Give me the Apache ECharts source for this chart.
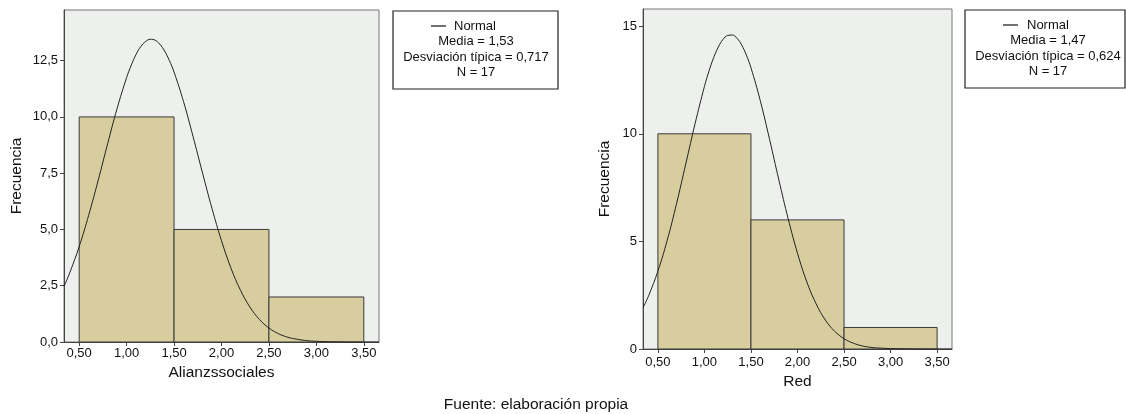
<!DOCTYPE html>
<html>
<head>
<meta charset="utf-8">
<script src="https://cdn.jsdelivr.net/npm/echarts@6/dist/echarts.min.js"></script>
<style>
html,body{margin:0;padding:0;background:#fff;}
#chart{width:1126px;height:414px;}
</style>
</head>
<body>
<div id="chart"></div>
<script>
// Histogram bins: [start, end, count]
const binsAlianzas = [[0.5, 1.5, 10], [1.5, 2.5, 5], [2.5, 3.5, 2]];
const binsRed = [[0.5, 1.5, 10], [1.5, 2.5, 6], [2.5, 3.5, 1]];

// Normal curve, points
const curveX = [0.34, 0.4, 0.5, 0.6, 0.7, 0.8, 0.9, 1.0, 1.05, 1.1, 1.15, 1.2, 1.25, 1.3, 1.35, 1.4, 1.45, 1.5, 1.6, 1.7, 1.8, 1.9, 2.0, 2.1, 2.2, 2.3, 2.4, 2.5, 2.6, 2.7, 2.8, 2.9, 3.0, 3.1, 3.2, 3.4, 3.66];
const curveAlianzas = [2.47, 3.07, 4.24, 5.63, 7.18, 8.81, 10.38, 11.75, 12.31, 12.78, 13.13, 13.35, 13.45, 13.41, 13.23, 12.93, 12.51, 11.99, 10.68, 9.13, 7.51, 5.93, 4.50, 3.28, 2.30, 1.55, 1.00, 0.62, 0.37, 0.21, 0.12, 0.06, 0.03, 0.015, 0.006, 0, 0];
const curveRed = [1.92, 2.47, 3.62, 5.05, 6.75, 8.61, 10.48, 12.20, 12.93, 13.55, 14.04, 14.39, 14.57, 14.59, 14.44, 14.13, 13.66, 13.07, 11.54, 9.74, 7.85, 6.05, 4.45, 3.12, 2.10, 1.34, 0.82, 0.48, 0.27, 0.14, 0.07, 0.04, 0.02, 0.01, 0.005, 0, 0];

// Tick labels
const xTicks = [0.5, 1.0, 1.5, 2.0, 2.5, 3.0, 3.5];
const yTicksAlianzas = [0, 2.5, 5, 7.5, 10, 12.5];
const yTicksRed = [0, 5, 10, 15];

// Legend texts
const legendAlianzas = ['Normal', 'Media = 1,53', 'Desviación típica = 0,717', 'N = 17'];
const legendRed = ['Normal', 'Media = 1,47', 'Desviación típica = 0,624', 'N = 17'];
const footer = 'Fuente: elaboración propia';

const FONT = "'Liberation Sans', Arial, Helvetica, sans-serif";
const BAR_FILL = '#d8cd9e';
const BG = '#eef0ee';
const AXIS = '#444';

const fmtX = v => v.toFixed(2).replace('.', ',');

function zip(xs, ys) { return xs.map((x, i) => [x, ys[i]]); }

function makeX(idx, name, nameGap, margin) {
  return {
    type: 'value', gridIndex: idx, min: 0.34, max: 3.66,
    name: name, nameLocation: 'middle', nameGap: nameGap,
    nameTextStyle: { fontFamily: FONT, fontSize: 15.5, color: '#111' },
    axisLine: { show: true, onZero: false, lineStyle: { color: AXIS, width: 1 } },
    axisTick: { show: true, length: 4, customValues: xTicks, lineStyle: { color: AXIS } },
    axisLabel: { customValues: xTicks, formatter: fmtX, margin: margin, fontFamily: FONT, fontSize: 13, color: '#111' },
    splitLine: { show: false }
  };
}
function makeY(idx, max, ticks, fmt, nameGap) {
  return {
    type: 'value', gridIndex: idx, min: 0, max: max,
    name: 'Frecuencia', nameLocation: 'middle', nameGap: nameGap,
    nameTextStyle: { fontFamily: FONT, fontSize: 15.5, color: '#111' },
    axisLine: { show: true, lineStyle: { color: AXIS, width: 1 } },
    axisTick: { show: true, length: 4, customValues: ticks, lineStyle: { color: AXIS } },
    axisLabel: { customValues: ticks, formatter: fmt, margin: 6, fontFamily: FONT, fontSize: 13, color: '#111' },
    splitLine: { show: false }
  };
}

function barSeries(idx, bins) {
  return {
    type: 'custom', xAxisIndex: idx, yAxisIndex: idx,
    data: bins,
    encode: { x: [0, 1], y: 2 },
    renderItem: function (params, api) {
      const p0 = api.coord([api.value(0), 0]);
      const p1 = api.coord([api.value(1), api.value(2)]);
      return {
        type: 'rect',
        shape: { x: p0[0], y: p1[1], width: p1[0] - p0[0], height: p0[1] - p1[1] },
        style: { fill: BAR_FILL, stroke: '#3a3a3a', lineWidth: 1 }
      };
    },
    z: 2
  };
}
function curveSeries(idx, ys) {
  return {
    type: 'line', xAxisIndex: idx, yAxisIndex: idx,
    data: zip(curveX, ys), smooth: 0.4, showSymbol: false, symbol: 'none',
    lineStyle: { color: '#222', width: 1 }, clip: true, z: 3
  };
}

function legendGraphic(x, y, w, h, lines, lineX0, lineX1, textX, centerX, ys) {
  const els = [
    { type: 'rect', shape: { x: x, y: y, width: w, height: h }, style: { fill: '#fff', stroke: '#222', lineWidth: 1.2 } },
    { type: 'line', shape: { x1: lineX0, y1: ys[0], x2: lineX1, y2: ys[0] }, style: { stroke: '#111', lineWidth: 1.2 } },
    { type: 'text', x: textX, y: ys[0], style: { text: lines[0], font: '13px ' + FONT, fill: '#111', textAlign: 'left', textVerticalAlign: 'middle' } }
  ];
  for (let i = 1; i < lines.length; i++) {
    els.push({ type: 'text', x: centerX, y: ys[i], style: { text: lines[i], font: '13px ' + FONT, fill: '#111', textAlign: 'center', textVerticalAlign: 'middle' } });
  }
  return els;
}

const chart = echarts.init(document.getElementById('chart'), null, { renderer: 'canvas' });
chart.setOption({
  animation: false,
  backgroundColor: '#fff',
  grid: [
    { left: 64, top: 10, width: 315, height: 332, show: true, backgroundColor: BG, borderColor: '#777', borderWidth: 1 },
    { left: 643, top: 9, width: 309, height: 340, show: true, backgroundColor: BG, borderColor: '#777', borderWidth: 1 }
  ],
  xAxis: [makeX(0, 'Alianzssociales', 21, 5), makeX(1, 'Red', 23, 7)],
  yAxis: [
    makeY(0, 14.75, yTicksAlianzas, v => v.toFixed(1).replace('.', ','), 39),
    makeY(1, 15.8, yTicksRed, v => String(v), 30)
  ],
  series: [
    barSeries(0, binsAlianzas), curveSeries(0, curveAlianzas),
    barSeries(1, binsRed), curveSeries(1, curveRed)
  ],
  graphic: [].concat(
    legendGraphic(393, 11, 165, 78, legendAlianzas, 431, 446, 454, 476, [26, 41.7, 57.3, 72.7]),
    legendGraphic(965, 10, 160, 78, legendRed, 1003, 1018, 1027, 1048, [25, 40.7, 56, 71.7]),
    [{ type: 'text', x: 536, y: 405, style: { text: footer, font: '15.5px ' + FONT, fill: '#111', textAlign: 'center', textVerticalAlign: 'middle' } }]
  )
});
</script>
</body>
</html>
